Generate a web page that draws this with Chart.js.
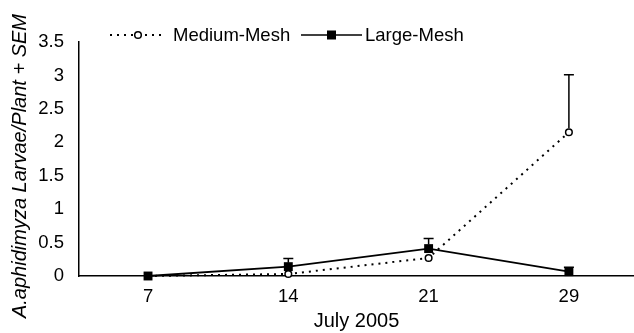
<!DOCTYPE html>
<html><head><meta charset="utf-8">
<script src="https://cdn.jsdelivr.net/npm/chart.js@4/dist/chart.umd.min.js"></script>
<style>html,body{margin:0;padding:0;background:#fff}#wrap{width:634px;height:333px}</style>
</head><body><div id="wrap"><canvas id="c" width="634" height="333"></canvas></div>
<script>
const categories = ['7', '14', '21', '29'];
const mediumMesh = [0, 0.03, 0.27, 2.15];
const mediumSEM = [0, 0, 0, 0.86];
const largeMesh = [0, 0.14, 0.41, 0.065];
const largeSEM = [0, 0.12, 0.15, 0.065];
const yTicks = [0, 0.5, 1, 1.5, 2, 2.5, 3, 3.5];
const yTitle = 'A.aphidimyza Larvae/Plant + SEM';
const xTitle = 'July 2005';

const FONT = "'Liberation Sans', Arial, Helvetica, sans-serif";

const errorBars = {
  id: 'errorBars',
  afterDatasetsDraw(chart) {
    const ctx = chart.ctx, y = chart.scales.y;
    chart.data.datasets.forEach((ds, di) => {
      const meta = chart.getDatasetMeta(di);
      ds.sem.forEach((e, i) => {
        if (!e) return;
        const p = meta.data[i];
        const top = y.getPixelForValue(ds.data[i].y + e);
        ctx.save();
        ctx.strokeStyle = '#000'; ctx.lineWidth = 1.5;
        ctx.beginPath();
        ctx.moveTo(p.x, p.y - 4); ctx.lineTo(p.x, top);
        ctx.moveTo(p.x - 5, top); ctx.lineTo(p.x + 5, top);
        ctx.stroke();
        ctx.restore();
      });
    });
  }
};

const customLegend = {
  id: 'customLegend',
  afterDraw(chart) {
    const ctx = chart.ctx;
    const yl = 35;
    ctx.save();
    ctx.font = '18.5px ' + FONT;
    ctx.fillStyle = '#000'; ctx.textBaseline = 'middle';
    // Medium
    ctx.strokeStyle = '#000'; ctx.lineWidth = 2; ctx.setLineDash([2, 5]);
    ctx.beginPath(); ctx.moveTo(110, yl); ctx.lineTo(166, yl); ctx.stroke();
    ctx.setLineDash([]);
    ctx.lineWidth = 1.5; ctx.fillStyle = '#fff';
    ctx.beginPath(); ctx.arc(138, yl, 3.3, 0, Math.PI * 2); ctx.fill(); ctx.stroke();
    ctx.fillStyle = '#000';
    ctx.fillText(chart.data.datasets[1].label, 173, yl + 1);
    // Large
    ctx.lineWidth = 1.5;
    ctx.beginPath(); ctx.moveTo(301, yl); ctx.lineTo(362, yl); ctx.stroke();
    ctx.fillRect(327, yl - 4.5, 9, 9);
    ctx.fillText(chart.data.datasets[0].label, 365, yl + 1);
    // Y axis title
    ctx.font = 'italic 20px ' + FONT;
    ctx.translate(20, 166);
    ctx.rotate(-Math.PI / 2);
    ctx.textAlign = 'center';
    ctx.fillText(yTitle, 0, 0);
    ctx.restore();
  }
};

new Chart(document.getElementById('c'), {
  type: 'line',
  data: {
    datasets: [
      {
        label: 'Large-Mesh',
        data: largeMesh.map((v, i) => ({ x: i, y: v })),
        sem: largeSEM,
        borderColor: '#000', borderWidth: 1.8,
        pointStyle: 'rect', pointRadius: 6.3, pointBackgroundColor: '#000', pointBorderColor: '#000', pointBorderWidth: 0,
        tension: 0, clip: false
      },
      {
        label: 'Medium-Mesh',
        data: mediumMesh.map((v, i) => ({ x: i, y: v })),
        sem: mediumSEM,
        borderColor: '#000', borderWidth: 2, borderDash: [2, 5], borderCapStyle: 'butt',
        pointStyle: 'circle', pointRadius: 3.3, pointBackgroundColor: '#fff', pointBorderColor: '#000', pointBorderWidth: 1.5,
        tension: 0, clip: false
      }
    ]
  },
  options: {
    responsive: false, animation: false,
    layout: { autoPadding: false, padding: { top: 42, left: 0, right: 0, bottom: 0 } },
    plugins: { legend: { display: false }, tooltip: { enabled: false } },
    scales: {
      x: {
        type: 'linear', min: -0.492, max: 3.464,
        afterBuildTicks: s => { s.ticks = categories.map((c, i) => ({ value: i })); },
        afterFit: s => { s.height = 57; s.paddingLeft = 0; s.paddingRight = 0; },
        grid: { display: false },
        border: { display: true, color: '#000', width: 1.5 },
        ticks: { color: '#000', font: { family: FONT, size: 18.5 }, padding: 2, maxRotation: 0, callback: v => categories[v] },
        title: { display: true, text: xTitle, color: '#000', font: { family: FONT, size: 20 }, padding: { top: 0, bottom: 0 } }
      },
      y: {
        min: 0, max: 3.5,
        afterBuildTicks: s => { s.ticks = yTicks.map(v => ({ value: v })); },
        afterFit: s => { s.width = 79; s.paddingTop = 0; s.paddingBottom = 0; },
        grid: { display: false },
        border: { display: true, color: '#000', width: 1.5 },
        ticks: { color: '#000', font: { family: FONT, size: 18.5 }, padding: 7, callback: v => String(v) },
        title: { display: false }
      }
    }
  },
  plugins: [errorBars, customLegend]
});
</script></body></html>
